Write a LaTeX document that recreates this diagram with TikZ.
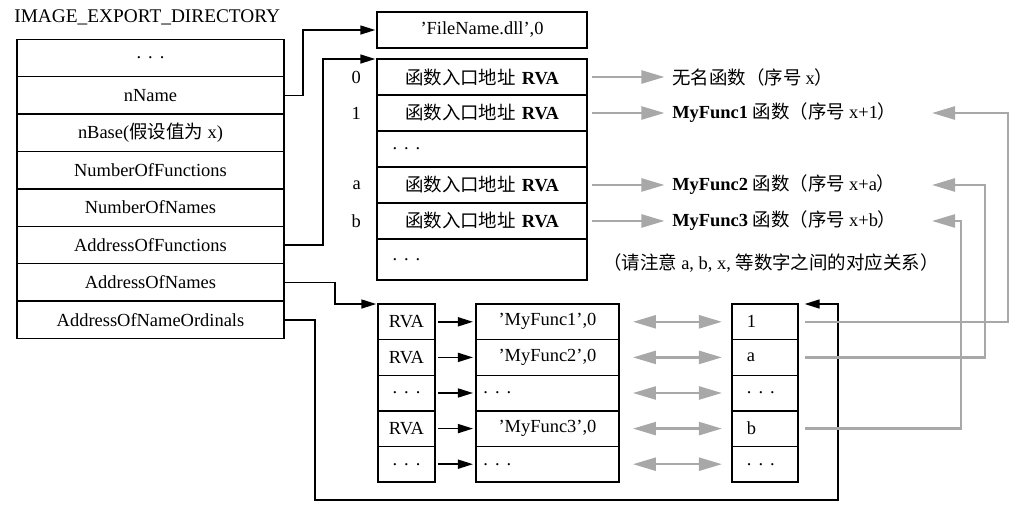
\documentclass[tikz,border=0pt]{standalone}
\usepackage{fontspec}
\setmainfont{Liberation Serif}
\newfontfamily\cjk{Noto Sans CJK SC}
\usetikzlibrary{arrows.meta, positioning, calc, fit, backgrounds}

\definecolor{arrgray}{RGB}{168,168,168}
\newcommand\rowdots{.\hspace{0.14cm}.\hspace{0.14cm}.}

\begin{document}
\begin{tikzpicture}[
    x=0.02cm, y=-0.02cm,
    font=\fontsize{10.5}{12.5}\selectfont,
    dirrow/.style = {rectangle, draw, line width=0.8pt, fill=white, minimum width=5.34cm, minimum height=0.748cm, inner sep=0pt, outer sep=0pt},
    fnrow/.style = {rectangle, draw, line width=0.8pt, fill=white, text width=3.9cm, inner xsep=0.15cm, inner ysep=0pt, minimum height=0.72cm, outer sep=0pt, align=center},
    rvarow/.style = {rectangle, draw, line width=0.8pt, fill=white, minimum width=1.14cm, minimum height=0.712cm, inner sep=0pt, outer sep=0pt},
    namerow/.style = {rectangle, draw, line width=0.8pt, fill=white, text width=2.56cm, inner xsep=0.15cm, inner ysep=0pt, minimum height=0.712cm, outer sep=0pt, align=center},
    ordrow/.style = {rectangle, draw, line width=0.8pt, fill=white, text width=0.72cm, inner xsep=0.3cm, inner ysep=0pt, minimum height=0.712cm, outer sep=0pt, align=left},
    shade/.style = {rectangle, fill=black!55, inner sep=0pt},
    fnlabel/.style = {inner sep=0.1cm},
    line/.style = {draw, line width=0.9pt, -{Triangle[length=0.3cm, width=0.18cm]}, shorten >=1pt},
    grayline/.style = {draw=arrgray, line width=1.4pt, -{Triangle[length=0.46cm, width=0.26cm]}},
    graydouble/.style = {draw=arrgray, line width=1.4pt, {Triangle[length=0.46cm, width=0.26cm]}-{Triangle[length=0.46cm, width=0.26cm]}}
]
\useasboundingbox (0,0) rectangle (1024,529);

% Export directory
\node [anchor=west, inner sep=0pt] (title) at (14,17) {\fontsize{11}{13}\selectfont IMAGE\_EXPORT\_DIRECTORY};
\node [dirrow] (dir0) at (150.5,58) {\rowdots};
\node [dirrow, below=0pt of dir0] (dir1) {nName};
\node [dirrow, below=0pt of dir1] (dir2) {nBase({\cjk 假设值为} x)};
\node [dirrow, below=0pt of dir2] (dir3) {NumberOfFunctions};
\node [dirrow, below=0pt of dir3] (dir4) {NumberOfNames};
\node [dirrow, below=0pt of dir4] (dir5) {AddressOfFunctions};
\node [dirrow, below=0pt of dir5] (dir6) {AddressOfNames};
\node [dirrow, below=0pt of dir6] (dir7) {AddressOfNameOrdinals};

% Module name
\node [rvarow, minimum width=4.2cm, minimum height=0.72cm] (fname) at (482,30) {'FileName.dll',0};

% Function address table
\node [fnrow] (fn0) at (482,77) {{\cjk 函数入口地址} \textbf{RVA}};
\node [fnrow, below=0pt of fn0] (fn1) {{\cjk 函数入口地址} \textbf{RVA}};
\node [fnrow, below=0pt of fn1, align=left] (fn2) {\hspace*{0.16cm}\rowdots};
\node [fnrow, below=0pt of fn2] (fn3) {{\cjk 函数入口地址} \textbf{RVA}};
\node [fnrow, below=0pt of fn3] (fn4) {{\cjk 函数入口地址} \textbf{RVA}};
\node [fnrow, below=0pt of fn4, align=left, minimum height=0.82cm] (fn5) {\hspace*{0.16cm}\rowdots};

\node [left=0.2cm of fn0] (idx0) {0};
\node [left=0.2cm of fn1] (idx1) {1};
\node [left=0.2cm of fn3] (idx3) {a};
\node [left=0.2cm of fn4] (idx4) {b};

\node [fnlabel, right=1.6cm of fn0] (lbl0) {{\cjk 无名函数（序号 }x{\cjk ）}};
\node [fnlabel, right=1.6cm of fn1] (lbl1) {\textbf{MyFunc1} {\cjk 函数（序号 }x+1{\cjk ）}};
\node [fnlabel, right=1.6cm of fn3] (lbl3) {\textbf{MyFunc2} {\cjk 函数（序号 }x+a{\cjk ）}};
\node [fnlabel, right=1.6cm of fn4] (lbl4) {\textbf{MyFunc3} {\cjk 函数（序号 }x+b{\cjk ）}};
\node [anchor=west, inner sep=0pt] (note) at (603,263) {{\cjk （请注意 }a, b, x, {\cjk 等数字之间的对应关系）}};

% Name tables
\node [rvarow] (nr0) at (406.5,321.8) {RVA};
\node [rvarow, below=0pt of nr0] (nr1) {RVA};
\node [rvarow, below=0pt of nr1] (nr2) {\rowdots};
\node [rvarow, below=0pt of nr2] (nr3) {RVA};
\node [rvarow, below=0pt of nr3] (nr4) {\rowdots};

\node [namerow, right=0.82cm of nr0] (nm0) {'MyFunc1',0};
\node [namerow, below=0pt of nm0] (nm1) {'MyFunc2',0};
\node [namerow, below=0pt of nm1, align=left] (nm2) {\rowdots};
\node [namerow, below=0pt of nm2] (nm3) {'MyFunc3',0};
\node [namerow, below=0pt of nm3, align=left] (nm4) {\rowdots};

\node [ordrow, right=2.26cm of nm0] (od0) {1};
\node [ordrow, below=0pt of od0] (od1) {a};
\node [ordrow, below=0pt of od1] (od2) {\rowdots};
\node [ordrow, below=0pt of od2] (od3) {b};
\node [ordrow, below=0pt of od3] (od4) {\rowdots};

% Shadows
\begin{scope}[on background layer, transform canvas={xshift=0.06cm, yshift=-0.06cm}]
    \node [shade, fit=(dir0) (dir7)] (dirshade) {};
    \node [shade, fit=(fname)] (fnameshade) {};
    \node [shade, fit=(fn0) (fn5)] (fnshade) {};
    \node [shade, fit=(nr0) (nr4)] (nrshade) {};
    \node [shade, fit=(nm0) (nm4)] (nmshade) {};
    \node [shade, fit=(od0) (od4)] (odshade) {};
\end{scope}

\coordinate (ordturn) at (838,500);
\coordinate (tipx) at (932,0);
\coordinate (bus1) at (1008,0);
\coordinate (bus3) at (985,0);
\coordinate (bus4) at (961,0);

% Edges
\path [line] (dir1.east) -- ++(19,0) |- (fname.west);
\path [line] (dir5.east) -- ++(39,0) |- (fn0.north west);
\path [line] (dir6.east) -- ++(51,0) |- (nr0.north west);
\path [line] (dir7.east) -- ++(31,0) |- (ordturn) |- ([xshift=0.1cm]od0.north east);

\foreach \i in {0,1,3,4}
    \path [grayline, shorten <=0.1cm, shorten >=0.05cm] (fn\i.east) -- (lbl\i.west);

\foreach \i in {0,...,4} {
    \path [line, shorten <=0.06cm, shorten >=0.06cm] (nr\i) -- (nm\i);
    \path [graydouble, shorten <=0.28cm, shorten >=0.2cm] (nm\i) -- (od\i);
}

% Ordinals back to functions
\path [grayline, shorten <=0.14cm] (od0.east) -| (bus1 |- fn1) -- (tipx |- fn1);
\path [grayline, shorten <=0.14cm] (od1.east) -| (bus3 |- fn3) -- (tipx |- fn3);
\path [grayline, shorten <=0.14cm] (od3.east) -| (bus4 |- fn4) -- (tipx |- fn4);

\end{tikzpicture}
\end{document}
